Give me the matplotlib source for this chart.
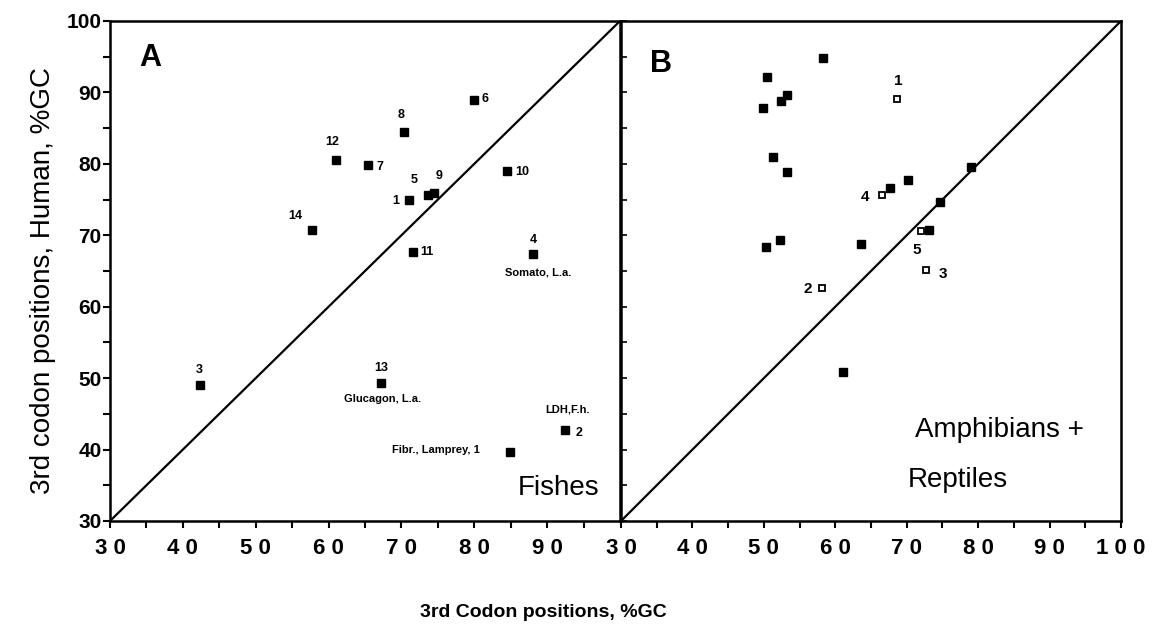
import matplotlib
matplotlib.use('Agg')
from matplotlib import pyplot as plt
import numpy as np

FONT = ['Liberation Sans Narrow', 'Liberation Sans', 'DejaVu Sans']
plt.rcParams['font.family'] = FONT

# panel A: fishes (x = fish 3rd codon GC, y = human)
fish_x = [71.1, 92.5, 42.3, 88.1, 73.6, 80.0, 65.4, 70.4, 74.5, 84.5, 71.6, 61.0, 67.2, 57.7, 84.9]
fish_y = [74.9, 42.7, 49.0, 67.4, 75.7, 89.0, 79.9, 84.4, 75.9, 79.0, 67.7, 80.5, 49.3, 70.8, 39.6]
fish_lab = ['1', '2', '3', '4', '5', '6', '7', '8', '9', '10', '11', '12', '13', '14',
            'Fibr., Lamprey, 1']

# panel B: amphibians + reptiles
amph_x = [58.3, 50.4, 53.3, 52.4, 49.9, 51.3, 53.2, 67.7, 70.2, 79.0, 74.7, 73.1, 50.3, 52.3, 63.6, 61.1]
amph_y = [94.8, 92.2, 89.7, 88.8, 87.8, 80.9, 78.8, 76.6, 77.7, 79.6, 74.7, 70.8, 68.4, 69.4, 68.8, 50.9]
open_x = [68.6, 58.1, 72.7, 66.5, 72.0]
open_y = [89.1, 62.6, 65.1, 75.7, 70.6]
open_lab = ['1', '2', '3', '4', '5']

xticks_a = [30, 40, 50, 60, 70, 80, 90]
xticks_b = [30, 40, 50, 60, 70, 80, 90, 100]
yticks = [30, 40, 50, 60, 70, 80, 90, 100]

# label offsets in pixels (dx, dy), centred
fish_off = [(-14, -1), (14, -3), (0, 15), (0, 14), (-14, 15), (11, 1), (12, -2), (-3, 17),
            (5, 17), (15, -1), (14, 0), (-4, 18), (0, 15), (-17, 14), (-30, 2)]
open_off = [(2, 18), (-14, -1), (17, -4), (-17, -2), (-4, -19)]

fig = plt.figure(figsize=(11.63, 6.28), dpi=100)
axA = fig.add_axes([110 / 1163, 1 - 521 / 628, 510 / 1163, 500 / 628])
axB = fig.add_axes([621 / 1163, 1 - 521 / 628, 500 / 1163, 500 / 628])


def spaced(v):
    return ' '.join(str(v))


for ax, xt in ((axA, xticks_a), (axB, xticks_b)):
    ax.set_xlim(30, 100)
    ax.set_ylim(30, 100)
    ax.plot([30, 100], [30, 100], color='black', lw=1.6)
    for s in ax.spines.values():
        s.set_linewidth(1.8)
    ax.set_xticks(xt)
    ax.set_xticklabels([spaced(v) for v in xt], fontsize=16, fontweight='bold')
    ax.set_xticks(np.arange(35, 100, 10), minor=True)
    ax.tick_params(axis='x', which='both', direction='out', length=5, width=1.5, pad=7)
    ax.set_yticks(yticks)
    ax.set_yticks(np.arange(35, 100, 10), minor=True)

axA.tick_params(axis='y', which='both', direction='out', length=5, width=1.5, pad=1,
                labelsize=15)
for t in axA.get_yticklabels():
    t.set_fontweight('bold')
axB.tick_params(axis='y', which='both', direction='in', length=4, width=1.2, labelleft=False)

# panel A points
axA.plot(fish_x, fish_y, 's', color='black', ms=5.5)
for x, y, lab, off in zip(fish_x, fish_y, fish_lab, fish_off):
    if lab.startswith('Fibr'):
        axA.annotate(lab, (x, y), xytext=off, textcoords='offset pixels',
                     ha='right', va='center', fontsize=8, fontweight='bold')
    else:
        axA.annotate(lab, (x, y), xytext=off, textcoords='offset pixels',
                     ha='center', va='center', fontsize=9, fontweight='bold')
axA.annotate('Somato, L.a.', (fish_x[3], fish_y[3]), xytext=(5, -19),
             textcoords='offset pixels', ha='center', va='center', fontsize=8, fontweight='bold')
axA.annotate('Glucagon, L.a.', (fish_x[12], fish_y[12]), xytext=(2, -16),
             textcoords='offset pixels', ha='center', va='center', fontsize=8, fontweight='bold')
axA.annotate('LDH,F.h.', (fish_x[1], fish_y[1]), xytext=(2, 21),
             textcoords='offset pixels', ha='center', va='center', fontsize=8, fontweight='bold')
axA.text(0.078, 0.925, 'A', transform=axA.transAxes, fontsize=22, fontweight='bold',
         ha='center', va='center', family=['Liberation Sans', 'DejaVu Sans'])
axA.text(0.959, 0.066, 'Fishes', transform=axA.transAxes, fontsize=20,
         ha='right', va='center')

# panel B points
axB.plot(amph_x, amph_y, 's', color='black', ms=5.5)
axB.plot(open_x, open_y, 's', mfc='white', mec='black', mew=1.3, ms=4.5)
for x, y, lab, off in zip(open_x, open_y, open_lab, open_off):
    axB.annotate(lab, (x, y), xytext=off, textcoords='offset pixels',
                 ha='center', va='center', fontsize=11, fontweight='bold')
axB.text(0.08, 0.914, 'B', transform=axB.transAxes, fontsize=22, fontweight='bold',
         ha='center', va='center', family=['Liberation Sans', 'DejaVu Sans'])
axB.text(0.588, 0.182, 'Amphibians +', transform=axB.transAxes, fontsize=20,
         ha='left', va='center')
axB.text(0.574, 0.082, 'Reptiles', transform=axB.transAxes, fontsize=20,
         ha='left', va='center')

fig.text(0.037, 0.553, '3rd codon positions, Human, %GC', rotation=90,
         ha='center', va='center', fontsize=20)
fig.text(0.467, 0.025, '3rd Codon positions, %GC', ha='center', va='center',
         fontsize=14, fontweight='bold')

fig.savefig('out.png', dpi=100)
